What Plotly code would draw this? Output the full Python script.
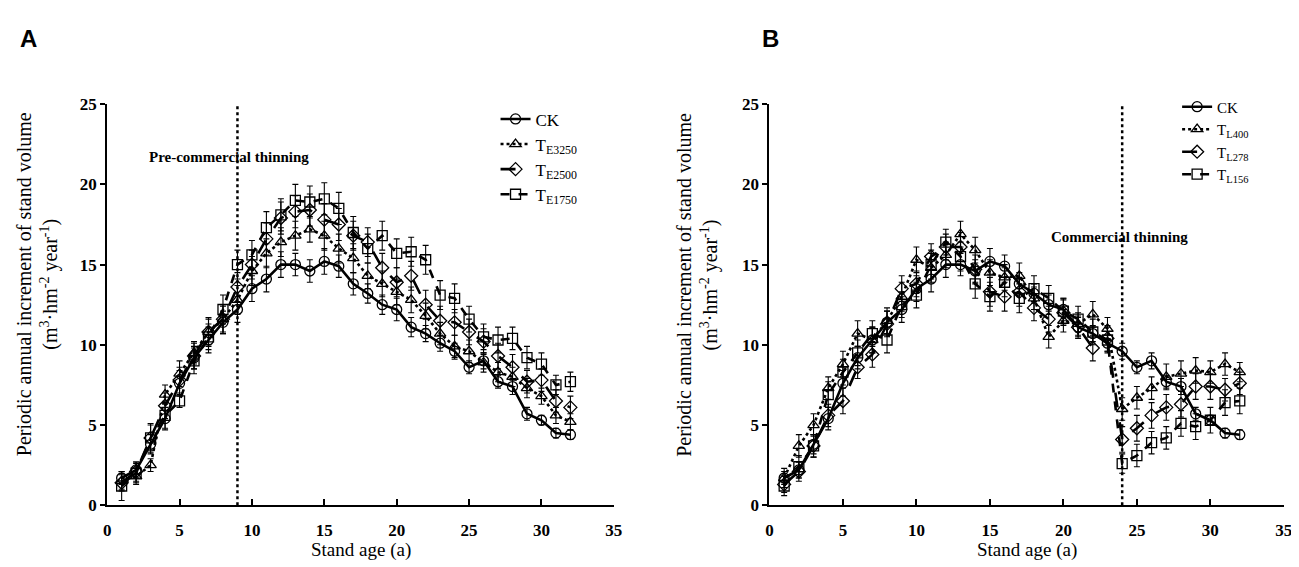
import plotly.graph_objects as go

# Stand age (a), same for every series
AGE = list(range(1, 33))

# axis ticks
X_TICKS = [0, 5, 10, 15, 20, 25, 30, 35]
Y_TICKS = [0, 5, 10, 15, 20, 25]

# Panel A: early (pre-commercial) thinning
CK = [1.7, 2.2, 3.8, 5.4, 7.6, 9.2, 10.3, 11.4, 12.2, 13.5, 14.1, 15.0, 15.0, 14.6, 15.2, 14.9,
      13.8, 13.2, 12.5, 12.2, 11.1, 10.7, 10.1, 9.6, 8.6, 9.0, 7.7, 7.4, 5.7, 5.3, 4.5, 4.4]
CK_ERR = [0.4, 0.5, 0.6, 0.7, 0.8, 0.7, 0.8, 0.7, 0.8, 0.8, 0.8, 0.8, 0.7, 0.7, 0.8, 0.7,
          0.7, 0.6, 0.6, 0.7, 0.6, 0.5, 0.5, 0.5, 0.4, 0.5, 0.4, 0.5, 0.4, 0.3, 0.3, 0.3]

TE3250 = [1.5, 1.8, 2.5, 6.9, 8.2, 9.5, 10.8, 11.6, 12.8, 14.6, 15.7, 16.4, 16.8, 17.2, 16.8, 16.0,
          15.4, 14.3, 13.8, 13.3, 12.8, 11.8, 10.7, 9.9, 9.6, 8.9, 8.3, 8.0, 7.3, 6.8, 5.6, 5.2]
TE3250_ERR = [0.5, 0.5, 0.4, 0.6, 0.8, 0.7, 0.8, 0.8, 0.9, 0.9, 0.9, 0.9, 0.9, 0.8, 0.9, 0.9,
              0.9, 0.8, 0.8, 0.8, 0.8, 0.8, 0.7, 0.7, 0.7, 0.6, 0.6, 0.6, 0.6, 0.5, 0.5, 0.5]

TE2500 = [1.4, 2.1, 4.2, 6.2, 7.8, 9.3, 10.8, 11.6, 13.6, 15.0, 16.6, 17.9, 18.3, 18.4, 17.8, 17.5,
          16.8, 16.4, 14.8, 13.9, 14.3, 12.5, 11.5, 11.4, 10.8, 10.2, 9.3, 8.6, 7.7, 7.8, 6.5, 6.1]
TE2500_ERR = [0.5, 0.6, 0.9, 0.8, 0.8, 0.8, 0.9, 0.9, 0.9, 0.9, 1.0, 1.0, 1.0, 1.0, 1.0, 1.0,
              0.9, 0.9, 0.9, 0.9, 0.9, 0.9, 0.9, 0.8, 0.8, 0.8, 0.8, 0.8, 0.7, 0.7, 0.7, 0.7]

TE1750 = [1.2, 2.0, 4.2, 5.6, 6.5, 9.0, 10.5, 12.2, 15.0, 15.6, 17.3, 18.1, 19.0, 18.9, 19.1, 18.5,
          17.0, 16.0, 16.8, 15.7, 15.8, 15.3, 13.1, 12.9, 11.6, 10.5, 10.3, 10.4, 9.2, 8.8, 7.5, 7.7]
TE1750_ERR = [0.9, 0.6, 0.8, 0.8, 0.4, 0.8, 0.8, 0.9, 0.9, 0.9, 1.0, 1.0, 1.0, 1.0, 1.0, 1.0,
              1.0, 0.9, 0.9, 0.9, 0.9, 0.9, 0.9, 0.9, 0.8, 0.8, 0.8, 0.7, 0.7, 0.7, 0.6, 0.6]

# Panel B: late (commercial) thinning
TL400 = [1.7, 3.7, 5.0, 7.3, 8.8, 10.7, 10.3, 11.5, 13.0, 15.3, 14.8, 15.6, 16.9, 15.9, 14.5, 14.2,
         14.3, 12.9, 10.5, 11.5, 11.3, 11.9, 11.0, 6.0, 6.7, 7.3, 8.0, 8.2, 8.4, 8.3, 8.8, 8.3]
TL400_ERR = [0.6, 0.7, 0.7, 0.7, 0.8, 0.8, 0.8, 0.8, 0.9, 0.8, 0.9, 0.8, 0.8, 0.8, 0.8, 0.8,
             0.8, 0.7, 0.7, 0.7, 0.7, 0.8, 0.7, 0.7, 0.7, 0.7, 0.8, 0.8, 0.8, 0.7, 0.7, 0.6]

TL278 = [1.3, 2.1, 3.7, 5.6, 6.5, 8.6, 9.4, 11.3, 13.5, 13.8, 15.5, 16.1, 16.1, 14.7, 13.3, 13.0,
         13.3, 12.3, 11.6, 12.0, 11.1, 9.8, 10.4, 4.1, 4.8, 5.6, 6.1, 6.3, 7.4, 7.4, 7.2, 7.6]
TL278_ERR = [0.5, 0.6, 0.7, 0.7, 0.8, 0.7, 0.8, 0.8, 0.8, 0.8, 0.8, 0.8, 0.9, 0.9, 0.9, 0.9,
             0.9, 0.8, 0.8, 0.8, 0.7, 0.8, 0.8, 0.8, 0.8, 0.8, 0.8, 0.8, 0.8, 0.8, 0.7, 0.7]

TL156 = [1.2, 2.4, 3.7, 6.9, 8.3, 9.5, 10.7, 10.3, 12.5, 13.1, 15.0, 16.4, 15.5, 13.8, 13.0, 13.9,
         12.9, 13.5, 12.9, 12.1, 11.6, 10.8, 10.3, 2.6, 3.1, 3.9, 4.2, 5.1, 4.9, 5.3, 6.4, 6.5]
TL156_ERR = [0.6, 0.7, 0.7, 0.8, 0.8, 0.8, 0.8, 0.8, 0.8, 0.8, 0.9, 0.8, 0.9, 0.9, 0.9, 0.9,
             0.9, 0.8, 0.8, 0.8, 0.8, 0.8, 0.8, 0.6, 0.7, 0.7, 0.7, 0.8, 0.8, 0.8, 0.8, 0.8]

SERIF = 'Liberation Serif, Times New Roman, serif'
Y_TITLE = ('Periodic annual increment of stand volume<br>'
           '(m<sup>3</sup>·hm<sup>-2</sup> year<sup>-1</sup>)')


def series(name, values, errors, symbol, dash, xaxis, yaxis, legend):
    """Return one black line + open marker + error bar trace."""
    return go.Scatter(x=AGE, y=values, name=name, mode='lines+markers',
                      xaxis=xaxis, yaxis=yaxis, legend=legend,
                      line=dict(color='black', width=2.6, dash=dash),
                      marker=dict(symbol=symbol, size=10, color='black',
                                  line=dict(color='black', width=1.3)),
                      error_y=dict(type='data', array=errors, color='black',
                                   thickness=1.1, width=3))


fig = go.Figure()

panel_a = [('CK', CK, CK_ERR, 'circle-open', 'solid'),
           ('T<sub>E3250</sub>', TE3250, TE3250_ERR, 'triangle-up-open', 'dot'),
           ('T<sub>E2500</sub>', TE2500, TE2500_ERR, 'diamond-open', 'longdash'),
           ('T<sub>E1750</sub>', TE1750, TE1750_ERR, 'square-open', 'dash')]
panel_b = [('CK', CK, CK_ERR, 'circle-open', 'solid'),
           ('T<sub>L400</sub>', TL400, TL400_ERR, 'triangle-up-open', 'dot'),
           ('T<sub>L278</sub>', TL278, TL278_ERR, 'diamond-open', 'longdash'),
           ('T<sub>L156</sub>', TL156, TL156_ERR, 'square-open', 'dash')]

for name, vals, errs, sym, dash in panel_a:
    fig.add_trace(series(name, vals, errs, sym, dash, 'x', 'y', 'legend'))
for name, vals, errs, sym, dash in panel_b:
    fig.add_trace(series(name, vals, errs, sym, dash, 'x2', 'y2', 'legend2'))

tick_font = dict(family=SERIF, size=17, color='black')
xaxis_style = dict(range=[0, 35], tickmode='array', tickvals=X_TICKS,
                   ticktext=['<b>%d</b>' % t for t in X_TICKS],
                   showgrid=False, zeroline=False,
                   showline=True, linecolor='black', linewidth=2,
                   ticks='inside', ticklen=6, tickwidth=2, tickcolor='black',
                   ticklabelstandoff=8, tickfont=tick_font)
yaxis_style = dict(range=[0, 25], tickmode='array', tickvals=Y_TICKS,
                   ticktext=['<b>%d</b>' % t for t in Y_TICKS],
                   showgrid=False, zeroline=False,
                   showline=True, linecolor='black', linewidth=2,
                   ticks='outside', ticklen=5, tickwidth=2, tickcolor='black',
                   tickfont=tick_font)

legend_style = dict(xanchor='left', yanchor='top', bgcolor='rgba(0,0,0,0)',
                    tracegroupgap=0, itemwidth=30)

fig.update_layout(
    width=1299, height=567,
    paper_bgcolor='white', plot_bgcolor='white',
    margin=dict(l=0, r=0, t=0, b=0),
    xaxis=dict(domain=[0.074, 0.468], anchor='y', **xaxis_style),
    yaxis=dict(domain=[0.109, 0.841], anchor='x', **yaxis_style),
    xaxis2=dict(domain=[0.589, 0.989], anchor='y2', **xaxis_style),
    yaxis2=dict(domain=[0.109, 0.841], anchor='x2', **yaxis_style),
    legend=dict(x=0.376, y=0.846, font=dict(family=SERIF, size=17, color='black'),
                **legend_style),
    legend2=dict(x=0.906, y=0.866, font=dict(family=SERIF, size=15, color='black'),
                 **legend_style),
    showlegend=True,
)

# thinning dates
fig.add_shape(type='line', xref='x', yref='y', x0=9, x1=9, y0=0, y1=25,
              line=dict(color='black', width=2.5, dash='dot'))
fig.add_shape(type='line', xref='x2', yref='y2', x0=24, x1=24, y0=0, y1=25,
              line=dict(color='black', width=2.5, dash='dot'))

notes = [
    (0.1686, 0.744, '<b>Pre-commercial thinning</b>', SERIF, 15, 0),
    (0.861, 0.598, '<b>Commercial thinning</b>', SERIF, 15, 0),
    (0.0125, 0.961, '<b>A</b>', 'Liberation Sans, Arial, sans-serif', 24, 0),
    (0.590, 0.961, '<b>B</b>', 'Liberation Sans, Arial, sans-serif', 24, 0),
    (0.271, 0.028, 'Stand age (a)', SERIF, 19, 0),
    (0.789, 0.028, 'Stand age (a)', SERIF, 19, 0),
    (0.020, 0.512, Y_TITLE, SERIF, 20, -90),
    (0.533, 0.512, Y_TITLE, SERIF, 20, -90),
]
for x, y, text, family, size, angle in notes:
    fig.add_annotation(x=x, y=y, xref='paper', yref='paper', text=text,
                       xanchor='center', yanchor='middle',
                       showarrow=False, textangle=angle,
                       font=dict(family=family, size=size, color='black'))

fig.write_html("out.html")
